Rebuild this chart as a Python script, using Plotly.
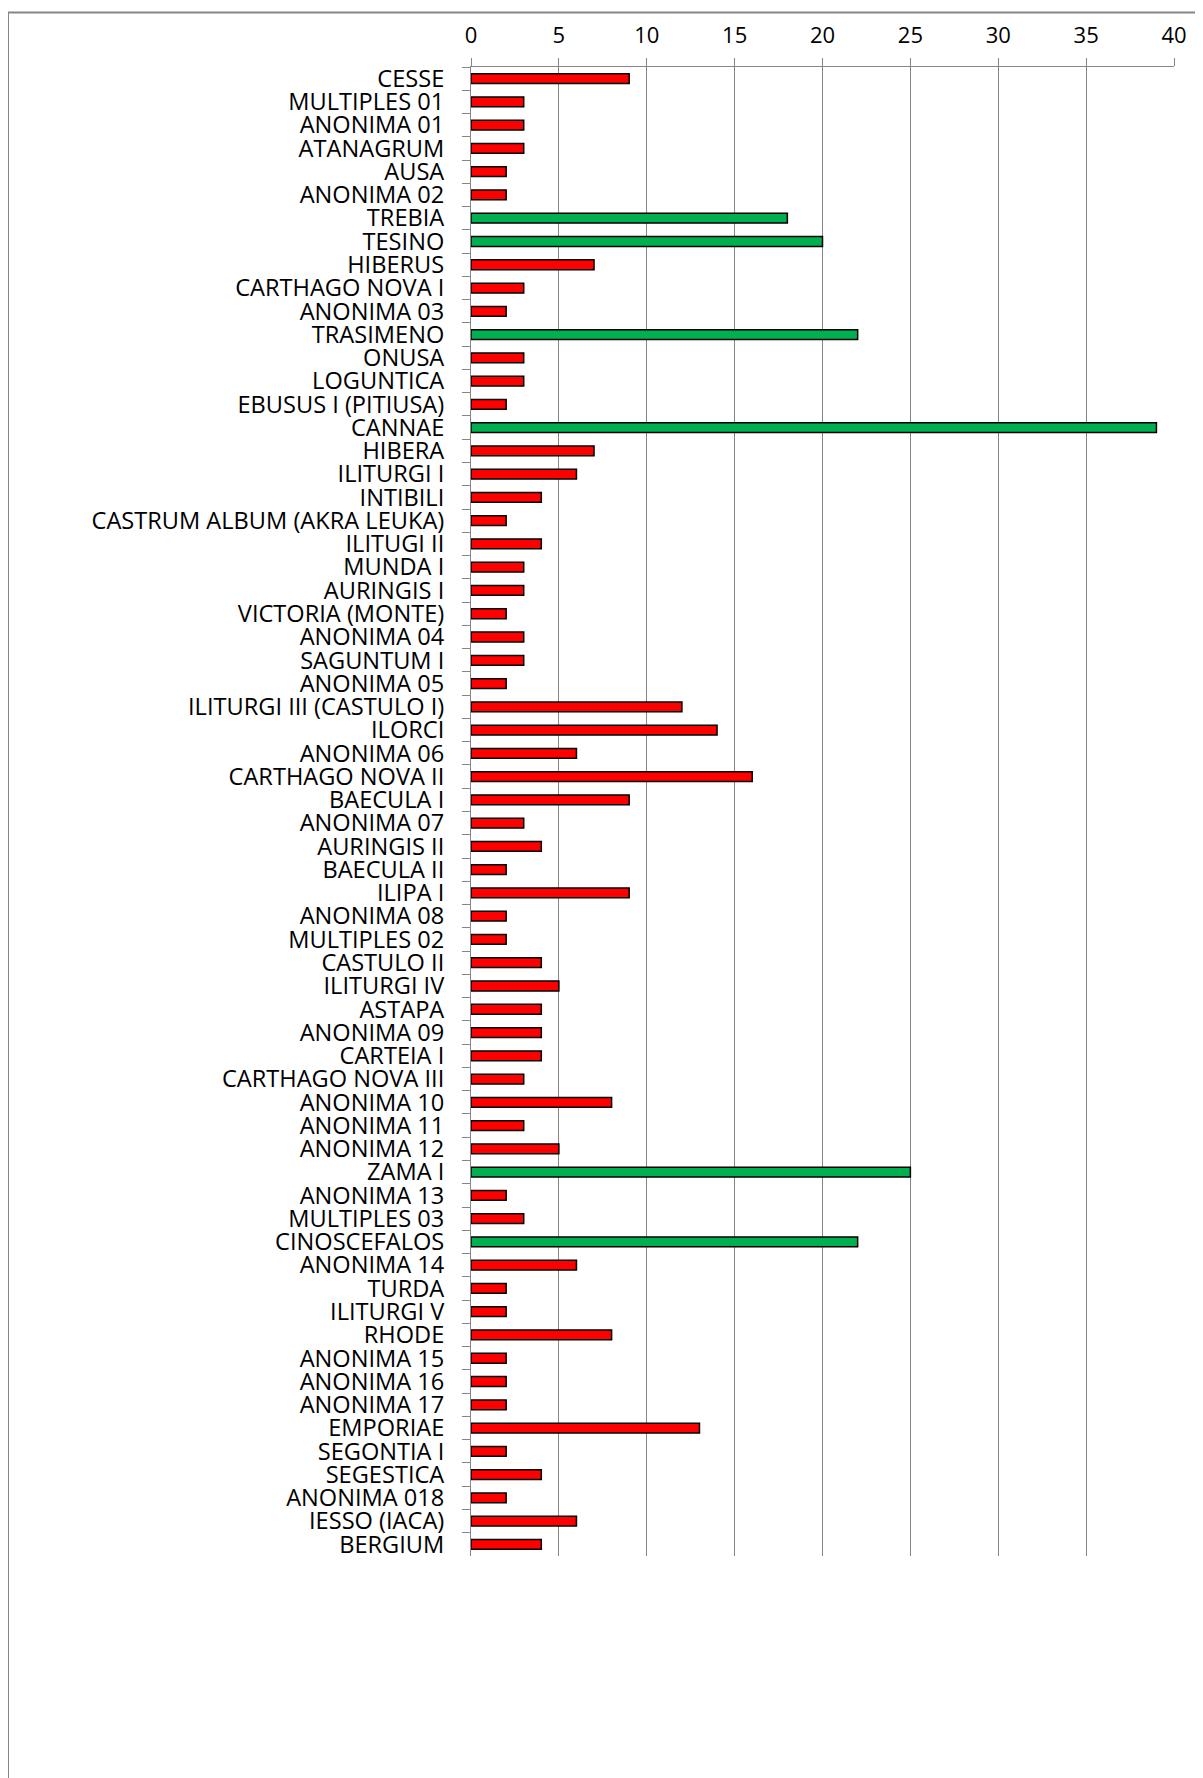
import plotly.graph_objects as go

categories = [
    "CESSE", "MULTIPLES 01", "ANONIMA 01", "ATANAGRUM", "AUSA", "ANONIMA 02",
    "TREBIA", "TESINO", "HIBERUS", "CARTHAGO NOVA I", "ANONIMA 03", "TRASIMENO",
    "ONUSA", "LOGUNTICA", "EBUSUS I (PITIUSA)", "CANNAE", "HIBERA", "ILITURGI I",
    "INTIBILI", "CASTRUM ALBUM (AKRA LEUKA)", "ILITUGI II", "MUNDA I", "AURINGIS I",
    "VICTORIA (MONTE)", "ANONIMA 04", "SAGUNTUM I", "ANONIMA 05",
    "ILITURGI III (CASTULO I)", "ILORCI", "ANONIMA 06", "CARTHAGO NOVA II",
    "BAECULA I", "ANONIMA 07", "AURINGIS II", "BAECULA II", "ILIPA I", "ANONIMA 08",
    "MULTIPLES 02", "CASTULO II", "ILITURGI IV", "ASTAPA", "ANONIMA 09", "CARTEIA I",
    "CARTHAGO NOVA III", "ANONIMA 10", "ANONIMA 11", "ANONIMA 12", "ZAMA I",
    "ANONIMA 13", "MULTIPLES 03", "CINOSCEFALOS", "ANONIMA 14", "TURDA",
    "ILITURGI V", "RHODE", "ANONIMA 15", "ANONIMA 16", "ANONIMA 17", "EMPORIAE",
    "SEGONTIA I", "SEGESTICA", "ANONIMA 018", "IESSO (IACA)", "BERGIUM",
]

values = [
    9, 3, 3, 3, 2, 2,
    18, 20, 7, 3, 2, 22,
    3, 3, 2, 39, 7, 6,
    4, 2, 4, 3, 3,
    2, 3, 3, 2,
    12, 14, 6, 16,
    9, 3, 4, 2, 9, 2,
    2, 4, 5, 4, 4, 4,
    3, 8, 3, 5, 25,
    2, 3, 22, 6, 2,
    2, 8, 2, 2, 2, 13,
    2, 4, 2, 6, 4,
]

green_categories = ["TREBIA", "TESINO", "TRASIMENO", "CANNAE", "ZAMA I", "CINOSCEFALOS"]

x_ticks = [0, 5, 10, 15, 20, 25, 30, 35, 40]

RED = "#FF0000"
GREEN = "#00B050"
GRID = "#868686"

colors = [GREEN if c in green_categories else RED for c in categories]

fig = go.Figure(
    go.Bar(
        x=values,
        y=categories,
        orientation="h",
        marker=dict(color=colors, line=dict(color="#000000", width=1.5)),
        hoverinfo="x+y",
    )
)

# the page body adds an 8px margin around the figure
OFF = 8
W, H = 1203 - OFF, 1778 - OFF
L = 471 - OFF
R = W - (1174 - OFF)
T = 67 - OFF
B = H - (1556 - OFF)
pw = W - L - R
ph = H - T - B


def px_to_paper_x(px):
    return (px - OFF - L) / pw


def px_to_paper_y(py):
    return (H - B - (py - OFF)) / ph


font_family = "Open Sans, DejaVu Sans, sans-serif"

fig.update_layout(
    width=W,
    height=H,
    margin=dict(l=L, r=R, t=T, b=B, pad=0),
    paper_bgcolor="white",
    plot_bgcolor="white",
    bargap=0.58,
    showlegend=False,
    font=dict(family=font_family, size=23, color="#000000"),
    xaxis=dict(
        side="top",
        range=[0, 40],
        tickvals=x_ticks,
        ticktext=[str(v) for v in x_ticks],
        showgrid=True,
        gridcolor=GRID,
        gridwidth=1,
        zeroline=False,
        showline=True,
        linecolor=GRID,
        linewidth=1,
        ticks="outside",
        ticklen=8,
        tickcolor=GRID,
        ticklabelstandoff=6,
        tickfont=dict(size=22),
        fixedrange=True,
    ),
    yaxis=dict(
        type="category",
        autorange="reversed",
        tickmode="linear",
        tick0=0,
        dtick=1,
        showgrid=False,
        zeroline=False,
        showline=True,
        linecolor=GRID,
        linewidth=1,
        ticks="outside",
        tickson="boundaries",
        ticklen=8,
        tickcolor=GRID,
        ticklabelstandoff=21,
        tickfont=dict(size=23.6),
        fixedrange=True,
    ),
    shapes=[
        dict(type="line", xref="paper", yref="paper",
             x0=px_to_paper_x(8), x1=px_to_paper_x(1203 + 20),
             y0=px_to_paper_y(12.5), y1=px_to_paper_y(12.5),
             line=dict(color=GRID, width=2)),
        dict(type="line", xref="paper", yref="paper",
             x0=px_to_paper_x(8), x1=px_to_paper_x(8),
             y0=px_to_paper_y(12.5), y1=px_to_paper_y(1778 + 20),
             line=dict(color=GRID, width=2)),
    ],
)

fig.write_html("out.html")
